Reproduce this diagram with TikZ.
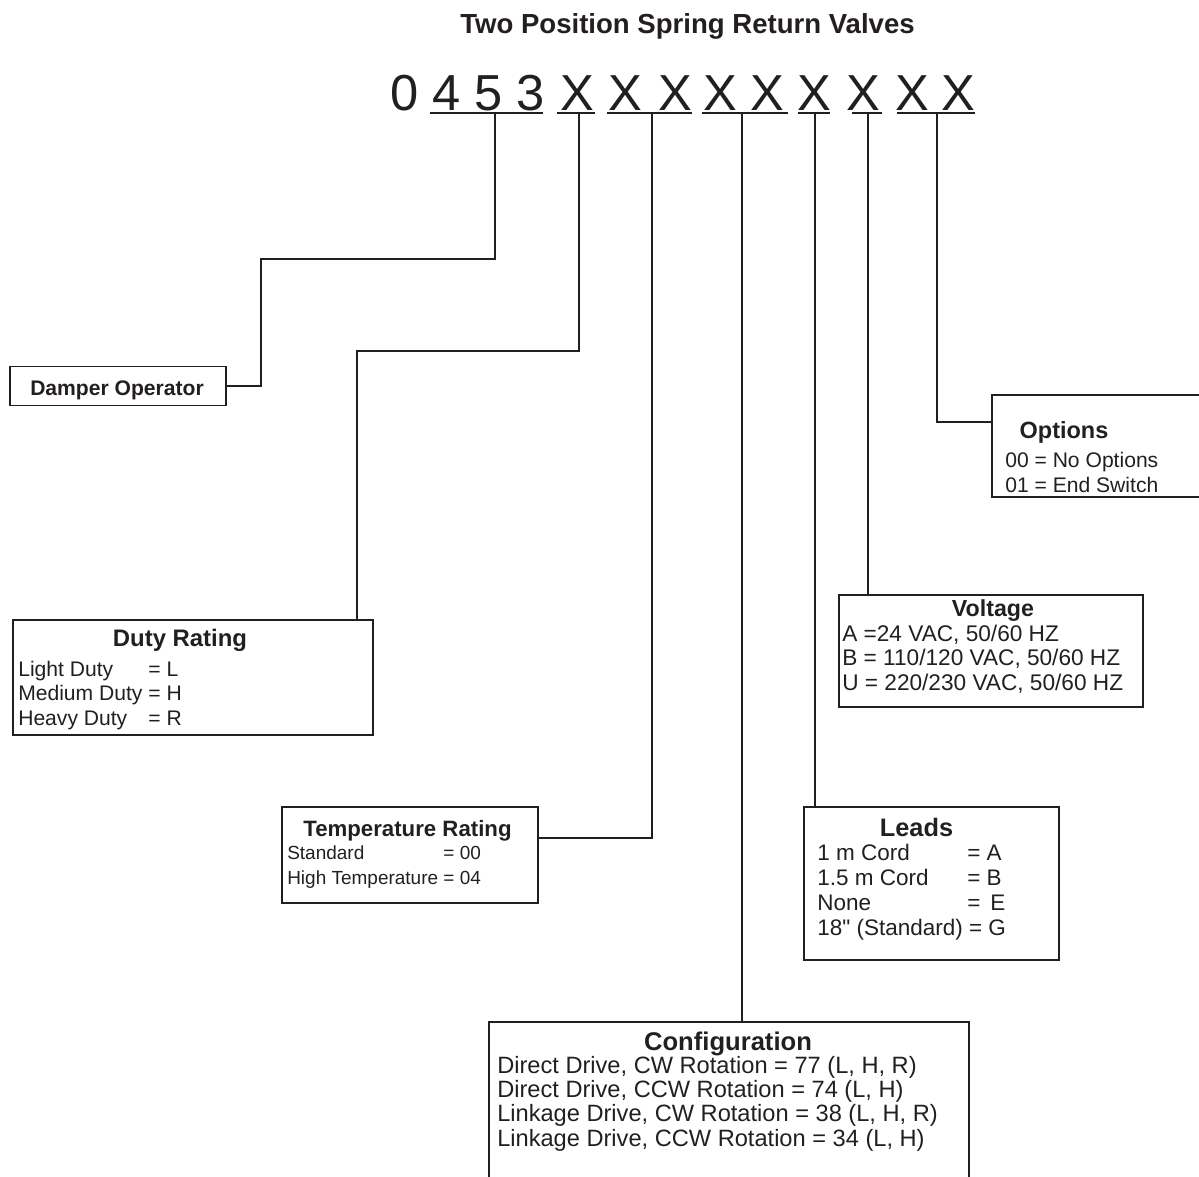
\documentclass[tikz,border=0pt]{standalone}
\usepackage{fontspec}
\setmainfont{Liberation Sans}[Ligatures=TeXOff]
\definecolor{ink}{RGB}{35,31,32}

\begin{document}
\begin{tikzpicture}[x=0.025cm, y=-0.025cm, color=ink]
        \tikzstyle{code_char} = [anchor=base, inner sep=0pt, font=\fontsize{36}{40}\selectfont]
        \tikzstyle{code_box}  = [draw, line width=1.25pt, inner sep=0pt, rectangle]
        \tikzstyle{box_title} = [anchor=base, inner sep=0pt]
        \tikzstyle{box_text}  = [anchor=base west, inner sep=0pt]

        \useasboundingbox (0,0) rectangle (1199,1177);
        \clip (0,0) rectangle (1199,1177);

        \node[anchor=base, inner sep=0pt, font=\fontsize{19.6}{22}\selectfont\bfseries] at (687.5, 33) (title) {Two Position Spring Return Valves};

        % part number
        \node[code_char] at (405, 110) (c0) {0};
        \node[code_char] at (447, 110) (c4) {4};
        \node[code_char] at (489, 110) (c5) {5};
        \node[code_char] at (531, 110) (c3) {3};
        \node[code_char] at (577, 110) (x1) {X};
        \node[code_char] at (625, 110) (x2) {X};
        \node[code_char] at (675, 110) (x3) {X};
        \node[code_char] at (720, 110) (x4) {X};
        \node[code_char] at (767, 110) (x5) {X};
        \node[code_char] at (814, 110) (x6) {X};
        \node[code_char] at (863, 110) (x7) {X};
        \node[code_char] at (912, 110) (x8) {X};
        \node[code_char] at (958, 110) (x9) {X};

        \coordinate (d453) at (495, 113);
        \coordinate (dx1)  at (579, 113);
        \coordinate (dx23) at (652, 113);
        \coordinate (dx45) at (742, 113);
        \coordinate (dx6)  at (815, 113);
        \coordinate (dx7)  at (868, 113);
        \coordinate (dx89) at (937, 113);

        % boxes
        \node[code_box, minimum width=5.4cm, minimum height=0.975cm] at (118, 386) (damper_box) {};
        \node[box_title, font=\fontsize{15}{18}\selectfont\bfseries] at (117, 395.5) (damper_title) {Damper Operator};

        \node[code_box, minimum width=9cm, minimum height=2.875cm] at (193, 677.5) (duty_box) {};
        \node[box_title, font=\fontsize{17}{20}\selectfont\bfseries] at (180, 646.5) (duty_title) {Duty Rating};
        \node[box_text, font=\fontsize{15}{17.6}\selectfont] at (18, 676) (duty_text)
          {\begin{tabular}[t]{@{}l@{\ }l@{}}Light Duty & = L\\ Medium Duty & = H\\ Heavy Duty & = R\end{tabular}};

        \node[code_box, minimum width=6.4cm, minimum height=2.4cm] at (410, 855) (temp_box) {};
        \node[box_title, font=\fontsize{15.8}{19}\selectfont\bfseries] at (407.5, 836) (temp_title) {Temperature Rating};
        \node[box_text, font=\fontsize{13.5}{17.6}\selectfont] at (287, 859.7) (temp_text)
          {\begin{tabular}[t]{@{}l@{\ }l@{}}Standard & = 00\\ High Temperature & = 04\end{tabular}};

        \node[code_box, minimum width=12cm, minimum height=5cm] at (729, 1122) (config_box) {};
        \node[box_title, font=\fontsize{18.2}{21}\selectfont\bfseries] at (728, 1050) (config_title) {Configuration};
        \node[box_text, font=\fontsize{16.8}{17.4}\selectfont] at (497, 1073) (config_text)
          {\begin{tabular}[t]{@{}l@{}}Direct Drive, CW Rotation = 77 (L, H, R)\\ Direct Drive, CCW Rotation = 74 (L, H)\\
           Linkage Drive, CW Rotation = 38 (L, H, R)\\ Linkage Drive, CCW Rotation = 34 (L, H)\end{tabular}};

        \node[code_box, minimum width=6.375cm, minimum height=3.825cm] at (931.5, 883.5) (leads_box) {};
        \node[box_title, font=\fontsize{18}{21}\selectfont\bfseries] at (916.5, 836) (leads_title) {Leads};
        \node[box_text, font=\fontsize{16}{17.8}\selectfont] at (817, 860) (leads_text)
          {\begin{tabular}[t]{@{}p{3.75cm}@{}l@{}}1 m Cord & = A\\ 1.5 m Cord & = B\\ None & = \,E\\
           \multicolumn{2}{@{}l@{}}{18" (Standard) = G}\end{tabular}};

        \node[code_box, minimum width=7.6cm, minimum height=2.8cm] at (991, 651) (volt_box) {};
        \node[box_title, font=\fontsize{16.5}{19}\selectfont\bfseries] at (993, 616) (volt_title) {Voltage};
        \node[box_text, font=\fontsize{16.1}{17.6}\selectfont] at (842, 641) (volt_text)
          {\begin{tabular}[t]{@{}l@{}}A =24 VAC, 50/60 HZ\\ B = 110/120 VAC, 50/60 HZ\\ U = 220/230 VAC, 50/60 HZ\end{tabular}};

        \node[code_box, minimum width=6.5cm, minimum height=2.55cm] at (1122, 446) (opt_box) {};
        \node[box_title, font=\fontsize{16.7}{19}\selectfont\bfseries] at (1064, 438) (opt_title) {Options};
        \node[box_text, font=\fontsize{15}{17.6}\selectfont] at (1005, 467.5) (opt_text)
          {\begin{tabular}[t]{@{}l@{}}00 = No Options\\ 01 = End Switch\end{tabular}};

        \coordinate (k_damper) at (261, 259);
        \coordinate (k_duty)   at (357, 351);

        % underlines
        \draw[line width=1.25pt]
          (d453) ++(-65,0) -- ++(113,0)
          (dx1)  ++(-22,0) -- ++(38,0)
          (dx23) ++(-45,0) -- ++(85,0)
          (dx45) ++(-40,0) -- ++(86,0)
          (dx6)  ++(-17,0) -- ++(32,0)
          (dx7)  ++(-16,0) -- ++(30,0)
          (dx89) ++(-40,0) -- ++(78,0)
        ;

        % leaders
        \draw[line width=1.25pt]
          (d453) |- (k_damper) |- (damper_box.east)
          (dx1)  |- (k_duty) -- (k_duty |- duty_box.north)
          (dx23) |- ([yshift=0.425cm]temp_box.east)
          (dx45) -- (dx45 |- config_box.north)
          (dx6)  -- (dx6 |- leads_box.north)
          (dx7)  -- (dx7 |- volt_box.north)
          (dx89) |- ([yshift=0.6cm]opt_box.west)
        ;
      \end{tikzpicture}
\end{document}
